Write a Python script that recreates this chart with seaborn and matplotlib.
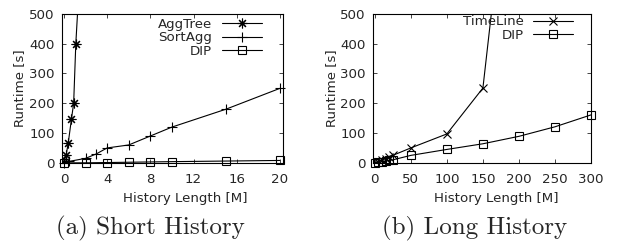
import matplotlib
matplotlib.use("Agg")
import matplotlib.pyplot as plt
import seaborn as sns

# ── Data ─────────────────────────────────────────────────────────────────────
agg_x  = [0, 0.2, 0.4, 0.7, 0.9, 1.1, 1.6]
agg_y  = [3, 25, 67, 148, 200, 400, 720]
sort_x = [0, 0.5, 2, 3, 4, 6, 8, 10, 15, 20]
sort_y = [0, 5, 15, 30, 50, 60, 90, 120, 180, 250]
dip1_x = [0, 2, 4, 6, 8, 10, 15, 20]
dip1_y = [0, 0, 1, 2, 3, 4, 6, 8]

tl_x   = [0, 5, 10, 15, 20, 25, 50, 100, 150, 200]
tl_y   = [1, 4, 9, 14, 20, 25, 50, 97, 251, 1320]
dip2_x = [0, 5, 10, 15, 20, 25, 50, 100, 150, 200, 250, 300]
dip2_y = [0, 2, 4, 6, 8, 10, 25, 45, 64, 89, 121, 161]

short_ticks = [0, 4, 8, 12, 16, 20]
long_ticks  = [0, 50, 100, 150, 200, 250, 300]
y_ticks     = [0, 100, 200, 300, 400, 500]

# ── Style ────────────────────────────────────────────────────────────────────
sns.set_style("ticks")
plt.rcParams.update({
    "font.family": "DejaVu Sans",
    "font.size": 9.5,
    "axes.linewidth": 0.8,
    "axes.edgecolor": "black",
})

ASTER = (8, 2, 0)
FS = 9.6
line_kw = dict(color="black", linewidth=0.8, markeredgecolor="black",
               markeredgewidth=0.8)

fig = plt.figure(figsize=(6.17, 2.48), dpi=100)
ax1 = fig.add_axes([0.101, 0.341, 0.357, 0.603])
ax2 = fig.add_axes([0.605, 0.341, 0.353, 0.603])

# Panel (a) — short history
sns.lineplot(x=agg_x, y=agg_y, ax=ax1, marker=ASTER, markersize=7,
             label="AggTree", **line_kw)
sns.lineplot(x=sort_x, y=sort_y, ax=ax1, marker="+", markersize=6.5,
             label="SortAgg", clip_on=False, **line_kw)
sns.lineplot(x=dip1_x, y=dip1_y, ax=ax1, marker="s", markersize=5.5,
             markerfacecolor="none", label="DIP", clip_on=False, **line_kw)
ax1.set_xlim(-0.15, 20.25)
ax1.set_xticks(short_ticks)

# Panel (b) — long history
sns.lineplot(x=tl_x, y=tl_y, ax=ax2, marker="x", markersize=6,
             label="TimeLine", **line_kw)
sns.lineplot(x=dip2_x, y=dip2_y, ax=ax2, marker="s", markersize=5.5,
             markerfacecolor="none", label="DIP", clip_on=False, **line_kw)
ax2.set_xlim(-2, 300)
ax2.set_xticks(long_ticks)

for ax in [ax1, ax2]:
    ax.set_ylim(-2, 500)
    ax.set_yticks(y_ticks)
    ax.tick_params(direction="in", length=3, width=0.6, top=True, right=True,
                   labelsize=FS)
    ax.tick_params(axis="x", pad=7)
    ax.tick_params(axis="y", pad=5.5)
    for s in ax.spines.values():
        s.set_visible(True)
    ax.set_xlabel("History Length [M]", fontsize=FS)
    ax.set_ylabel("Runtime [s]", fontsize=FS)

ax1.xaxis.set_label_coords(0.556, -0.19)
ax2.xaxis.set_label_coords(0.564, -0.19)
ax1.yaxis.set_label_coords(-0.165, 0.5)
ax2.yaxis.set_label_coords(-0.163, 0.5)

ax1.legend(loc="upper right", bbox_to_anchor=(0.905, 0.975), frameon=False,
           markerfirst=False, handlelength=3.0, handletextpad=0.7,
           labelspacing=0.05, borderpad=0, borderaxespad=0, fontsize=FS)
ax2.legend(loc="upper right", bbox_to_anchor=(0.917, 0.99), frameon=False,
           markerfirst=False, handlelength=3.0, handletextpad=0.7,
           labelspacing=0.05, borderpad=0, borderaxespad=0, fontsize=FS)

# sub-figure captions
fig.text(150 / 617, 0.077, "(a) Short History", ha="center", va="center",
         fontsize=18, family="cmr10")
fig.text(475 / 617, 0.077, "(b) Long History", ha="center", va="center",
         fontsize=18, family="cmr10")

plt.savefig("out.png", dpi=100, facecolor="white")
plt.close()
